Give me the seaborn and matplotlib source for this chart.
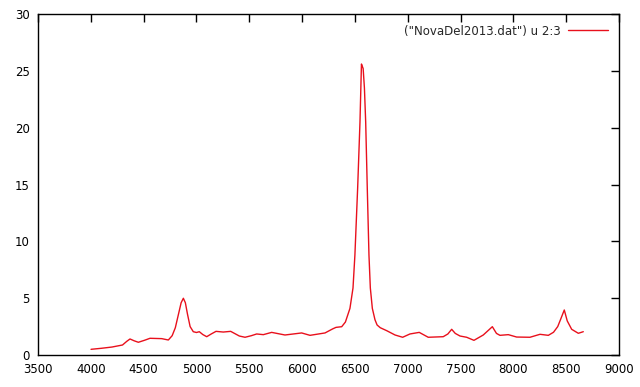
import matplotlib
matplotlib.use("Agg")
import matplotlib.pyplot as plt
import seaborn as sns
import pandas as pd

wavelength = [4002, 4100, 4200, 4300, 4340, 4371, 4410, 4450, 4510, 4560, 4671, 4734,
              4770, 4800, 4830, 4855, 4876, 4895, 4915, 4940, 4970, 5000, 5027, 5060,
              5097, 5140, 5185, 5254, 5324, 5370, 5406, 5460, 5520, 5570, 5633, 5712,
              5838, 5996, 6075, 6217, 6290, 6321, 6375, 6410, 6453, 6482, 6500, 6526,
              6548, 6562, 6570, 6578, 6590, 6602, 6617, 6633, 6646, 6665,
              6690, 6710, 6740, 6801, 6880, 6952, 7021, 7109, 7194, 7336, 7380, 7416,
              7450, 7495, 7558, 7627, 7715, 7801, 7840, 7873, 7952, 8031, 8157, 8252,
              8331, 8380, 8420, 8450, 8482, 8510, 8552, 8615, 8662]
flux = [0.50, 0.59, 0.70, 0.88, 1.20, 1.41, 1.25, 1.12, 1.30, 1.47, 1.44, 1.32,
        1.70, 2.40, 3.60, 4.60, 4.99, 4.60, 3.60, 2.50, 2.05, 1.98, 2.05, 1.80,
        1.61, 1.85, 2.08, 2.02, 2.08, 1.85, 1.67, 1.56, 1.70, 1.85, 1.79, 1.99,
        1.76, 1.94, 1.73, 1.94, 2.30, 2.43, 2.49, 2.90, 4.10, 5.90, 8.80, 14.7,
        20.5, 25.6, 25.4, 25.2, 23.5, 20.5, 14.7, 8.8, 5.9, 4.1,
        3.10, 2.64, 2.40, 2.14, 1.76, 1.56, 1.85, 1.99, 1.56, 1.61, 1.85, 2.26,
        1.90, 1.67, 1.56, 1.29, 1.76, 2.49, 1.90, 1.73, 1.79, 1.58, 1.56, 1.82,
        1.73, 2.00, 2.50, 3.20, 3.96, 3.00, 2.26, 1.91, 2.05]
x_ticks = [3500, 4000, 4500, 5000, 5500, 6000, 6500, 7000, 7500, 8000, 8500, 9000]
y_ticks = [0, 5, 10, 15, 20, 25, 30]
label = '("NovaDel2013.dat") u 2:3'

df = pd.DataFrame({"x": wavelength, "y": flux})

sns.set_style("white")
plt.rcParams["font.family"] = ["DejaVu Sans"]

fig = plt.figure(figsize=(6.4, 3.87), dpi=100)
ax = fig.add_axes([38/640, 1-355/387, (619-38)/640, (355-14)/387])
sns.lineplot(data=df, x="x", y="y", ax=ax, color="#e8101c", linewidth=1.0, label=label)

ax.set_xlim(3500, 9000)
ax.set_ylim(0, 30)
ax.set_xticks(x_ticks)
ax.set_yticks(y_ticks)
ax.set_xlabel("")
ax.set_ylabel("")
for s in ax.spines.values():
    s.set_color("black")
    s.set_linewidth(1.0)
ax.tick_params(direction="in", length=6, width=1, top=True, right=True,
               labelsize=8.5, colors="black", pad=6)
leg = ax.legend(loc="upper right", frameon=False, markerfirst=False,
                fontsize=8.5, handlelength=3.4, borderaxespad=0.5, handletextpad=0.6)
plt.savefig("out.png", dpi=100)
